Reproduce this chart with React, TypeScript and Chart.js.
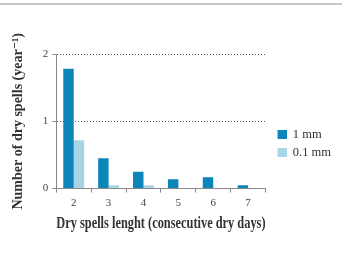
import React, { useEffect, useRef } from "react";
import { Chart, registerables } from "chart.js";

Chart.register(...registerables);

const categories = ["2", "3", "4", "5", "6", "7"];
const series1mm = [1.78, 0.45, 0.25, 0.14, 0.17, 0.05];
const series01mm = [0.72, 0.05, 0.05, 0.01, 0, 0];
const seriesLabels = ["1 mm", "0.1 mm"];
const yTitle = "Number of dry spells (year\u207B\u00B9)";
const xTitle = "Dry spells lenght (consecutive dry days)";

const SERIF = "'Liberation Serif', 'DejaVu Serif', serif";
const DARK = "#0c86ba";
const LIGHT = "#a8d5e5";

function legendSwatch(color: string) {
  const c = document.createElement("canvas");
  c.width = 15;
  c.height = 9;
  const g = c.getContext("2d")!;
  g.fillStyle = color;
  g.fillRect(6, 0, 9, 9);
  return c;
}

export default function App() {
  const ref = useRef<HTMLCanvasElement | null>(null);
  useEffect(() => {
    document.body.style.margin = "0";
    const ctx = ref.current!;
    const chart = new Chart(ctx, {
      type: "bar",
      data: {
        labels: categories,
        datasets: [
          {
            label: seriesLabels[0],
            data: series1mm,
            backgroundColor: DARK,
            categoryPercentage: 0.6,
            barPercentage: 1,
            pointStyle: legendSwatch(DARK),
          } as any,
          {
            label: seriesLabels[1],
            data: series01mm,
            backgroundColor: LIGHT,
            categoryPercentage: 0.6,
            barPercentage: 1,
            pointStyle: legendSwatch(LIGHT),
          } as any,
        ],
      },
      options: {
        responsive: false,
        animation: false,
        layout: { padding: { top: 54, left: 10, right: 1, bottom: 26 } },
        plugins: {
          tooltip: { enabled: false },
          legend: {
            position: "right",
            align: "center",
            labels: {
              usePointStyle: true,
              pointStyleWidth: 15,
              boxWidth: 15,
              boxHeight: 9,
              padding: 6,
              color: "#333",
              font: { family: SERIF, size: 12.5 },
            },
          },
        },
        scales: {
          x: {
            offset: true,
            grid: {
              offset: true,
              drawOnChartArea: false,
              drawTicks: true,
              tickLength: 4,
              tickColor: "#888",
            },
            border: { display: true, color: "#888", width: 1 },
            ticks: { color: "#444", font: { family: SERIF, size: 11 }, padding: 4 },
            title: {
              display: true,
              text: xTitle,
              color: "#333",
              font: { family: SERIF, size: 16, weight: "bold" },
              padding: { top: 0, bottom: 0 },
            },
          },
          y: {
            min: 0,
            max: 2,
            ticks: { stepSize: 1, color: "#444", font: { family: SERIF, size: 11 }, padding: 4 },
            grid: {
              color: (c: any) => (c.tick && c.tick.value === 0 ? "rgba(0,0,0,0)" : "#555"),
              tickColor: "#888",
              tickLength: 4,
              tickBorderDash: [],
              lineWidth: 1,
            },
            border: { display: true, color: "#888", width: 1, dash: [1, 2] },
            title: {
              display: true,
              text: yTitle,
              color: "#333",
              font: { family: SERIF, size: 14, weight: "bold" },
              padding: { top: 0, bottom: 12 },
            },
          },
        },
      },
    });
    return () => chart.destroy();
  }, []);
  return (
    <div style={{ position: "absolute", left: 0, top: 0, width: 342, height: 259, background: "#fff" }}>
      <div style={{ position: "absolute", left: 0, top: 3, width: 342, height: 2, background: "#c8c8c8" }} />
      <canvas ref={ref} width={342} height={259} style={{ position: "absolute", left: 0, top: 0 }} />
    </div>
  );
}
